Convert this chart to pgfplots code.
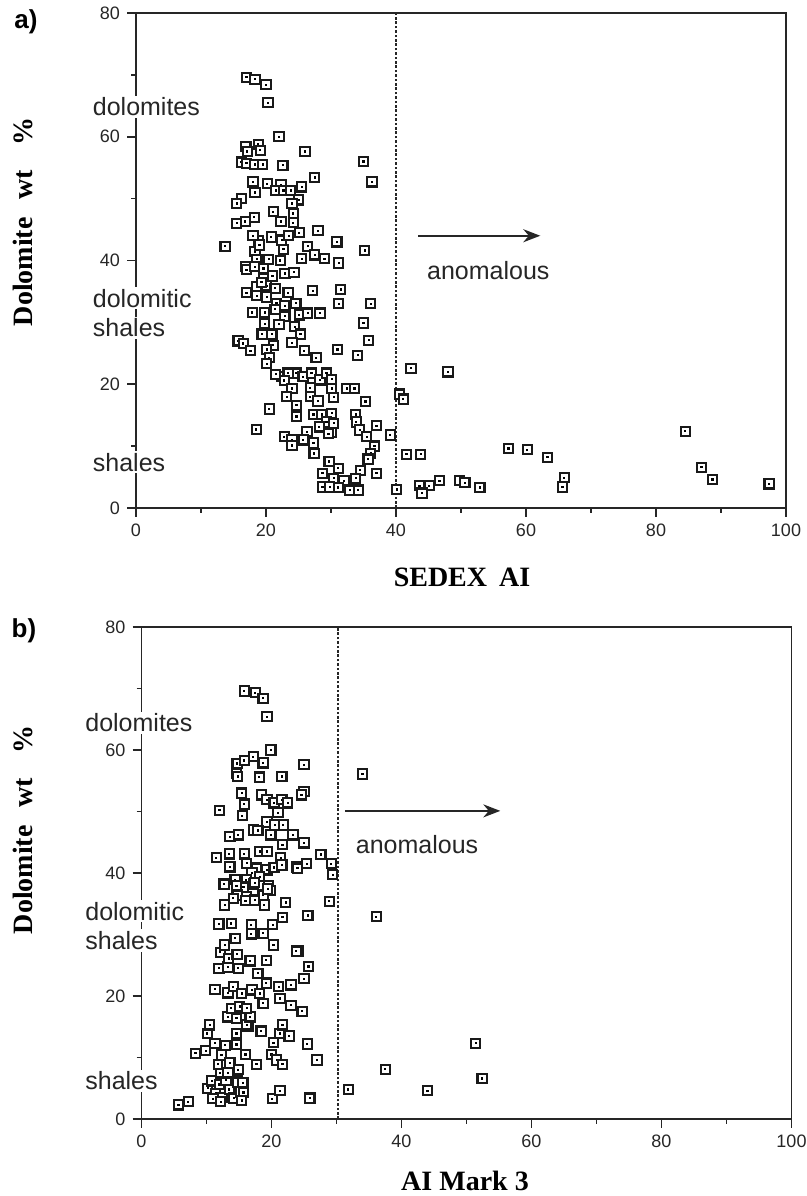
\documentclass[border=0pt]{standalone}
\usepackage{fontspec}
\setmainfont{Liberation Sans}
\newfontfamily\serifbf{Liberation Serif}[BoldFont={Liberation Serif Bold}]
\usepackage{pgfplots}
\usepackage{pgfplotstable}
\pgfplotsset{compat=1.18}
\usetikzlibrary{arrows.meta}

\pgfdeclareplotmark{sqdot}{%
  \pgfpathrectangle{\pgfqpoint{-\pgfplotmarksize}{-\pgfplotmarksize}}{\pgfqpoint{2\pgfplotmarksize}{2\pgfplotmarksize}}%
  \pgfusepathqfillstroke
  \begin{pgfscope}%
  \pgfsetfillcolor{black}%
  \pgfpathrectangle{\pgfqpoint{-0.55pt}{-0.55pt}}{\pgfqpoint{1.1pt}{1.1pt}}%
  \pgfusepathqfill
  \end{pgfscope}%
}

\pgfplotstableread{
x y
17.0 69.6
18.3 69.3
20.0 68.4
20.3 65.5
22.0 60.0
26.0 57.6
16.9 58.4
18.8 58.8
17.1 57.6
19.1 57.8
16.2 55.9
17.0 55.7
18.3 55.5
19.5 55.5
22.6 55.4
35.0 56.0
36.3 52.7
27.5 53.4
18.0 52.7
20.2 52.4
22.3 52.2
21.5 51.3
22.7 51.3
23.8 51.3
25.5 51.9
18.3 51.0
25.0 49.8
16.2 50.0
15.5 49.2
24.0 49.2
21.1 47.9
24.2 47.6
18.2 47.0
15.5 46.0
16.8 46.3
22.3 46.3
24.2 46.1
28.0 44.8
25.1 44.5
30.9 43.0
22.4 43.3
18.8 43.2
13.7 42.3
35.2 41.6
22.7 41.8
26.4 42.3
18.3 41.4
27.5 40.9
18.6 40.2
20.4 40.2
22.2 40.0
25.5 40.3
29.0 40.3
31.2 39.6
16.9 39.0
17.0 38.5
18.3 39.0
19.6 38.7
22.9 37.9
24.3 38.1
19.6 37.1
18.6 35.8
20.1 35.9
21.4 35.5
17.0 34.8
18.6 34.3
20.1 34.1
23.4 34.8
27.2 35.1
31.5 35.3
21.6 33.1
22.9 32.7
24.6 33.1
31.2 33.0
36.1 33.0
17.9 31.6
19.8 31.6
21.4 32.1
22.9 31.0
25.1 31.2
26.4 31.5
28.3 31.5
19.8 29.8
22.0 29.7
35.0 29.9
19.4 28.1
20.9 28.1
24.4 29.3
25.3 28.1
35.8 27.1
15.7 27.0
16.5 26.6
21.1 26.3
24.0 26.7
17.6 25.4
20.1 25.6
25.9 25.4
31.0 25.6
27.7 24.3
34.1 24.7
20.5 24.3
20.1 23.3
22.4 21.2
21.5 21.6
24.6 21.8
25.7 21.2
27.0 21.8
28.3 20.7
29.3 21.8
30.1 20.8
23.4 21.8
22.8 20.6
24.0 19.3
26.8 19.4
30.1 19.3
32.4 19.3
33.6 19.3
23.2 18.0
26.8 18.0
28.0 17.3
30.4 17.9
35.3 17.2
24.7 16.6
20.5 16.0
24.7 14.8
27.3 15.1
28.6 15.1
30.1 15.3
33.8 15.1
29.3 13.9
30.4 13.7
33.9 13.9
28.2 13.1
37.0 13.3
18.5 12.7
26.3 12.3
30.1 12.2
29.6 12.0
34.4 12.6
35.5 11.5
39.1 11.8
22.8 11.5
24.0 11.0
25.7 11.0
27.3 10.5
24.0 10.1
36.7 10.0
27.4 8.8
36.1 8.8
35.7 7.9
29.7 7.5
31.1 6.4
34.5 6.1
37.0 5.6
28.7 5.6
30.4 4.8
32.0 4.4
33.8 4.8
28.7 3.4
29.8 3.4
31.1 3.3
32.9 2.9
34.2 2.9
40.1 3.0
42.3 22.6
48.0 22.0
40.5 18.4
41.1 17.6
41.6 8.7
43.8 8.7
57.3 9.6
60.2 9.4
63.3 8.2
65.9 4.9
65.6 3.4
43.6 3.6
45.1 3.6
44.0 2.4
46.7 4.4
49.8 4.5
50.6 4.1
52.9 3.3
84.5 12.4
87.0 6.6
88.7 4.6
97.4 3.9
19.0 42.5
20.8 43.8
19.3 36.5
21.0 37.5
18.0 44.0
23.5 44.0
}\dataA

\pgfplotstableread{
x y
15.8 69.6
17.5 69.3
18.7 68.4
19.3 65.4
19.9 60.0
14.7 57.8
15.8 58.3
17.2 58.9
18.7 57.9
14.6 56.2
14.8 55.7
18.1 55.6
21.6 55.7
15.4 53.0
18.5 52.7
19.3 51.9
20.4 51.4
21.6 51.9
22.5 51.4
15.8 51.2
12.0 50.2
15.5 49.3
21.0 49.8
19.3 48.3
20.5 47.8
21.8 47.8
17.2 47.0
17.9 46.9
13.6 45.9
14.9 46.2
19.9 46.2
23.3 46.2
21.7 44.6
11.5 42.5
13.5 43.1
15.8 43.1
18.2 43.5
19.3 43.5
21.4 42.5
23.9 41.0
13.6 41.0
16.2 41.6
17.7 40.8
19.3 40.5
20.4 40.9
21.6 41.3
17.0 40.0
18.2 39.4
12.7 38.2
14.4 38.9
16.1 38.9
17.2 38.2
15.7 37.7
19.5 38.0
19.8 37.1
14.7 36.4
16.2 36.1
18.7 36.4
25.0 57.6
25.0 53.3
24.6 52.7
34.0 56.1
25.0 44.9
27.6 43.0
29.2 41.5
29.4 39.7
25.4 41.5
24.0 40.8
28.9 35.4
22.2 35.2
25.6 33.1
36.1 32.9
24.1 27.3
25.7 24.8
25.0 22.8
24.7 17.5
25.5 12.2
27.0 9.6
25.9 3.4
31.8 4.8
37.5 8.1
44.0 4.6
51.4 12.3
52.4 6.6
5.7 2.3
7.2 2.8
8.3 10.7
9.9 11.1
11.3 12.3
12.9 12.0
14.6 12.1
16.0 10.5
17.7 8.9
20.0 10.5
20.8 9.6
21.7 8.9
14.6 13.9
16.4 15.0
18.4 14.3
20.3 12.4
21.3 13.9
22.7 13.5
21.7 15.3
10.1 13.9
10.5 15.3
13.3 16.6
14.6 16.4
16.2 15.3
16.7 16.6
13.8 18.0
15.1 18.3
16.2 18.0
11.3 21.1
13.3 20.5
14.1 21.5
15.4 20.4
17.0 21.0
18.2 20.4
18.7 18.8
21.3 19.6
23.0 18.5
21.1 21.5
23.0 21.8
19.2 22.1
17.9 23.7
11.9 24.5
13.3 24.7
14.9 24.5
16.7 25.7
19.2 25.8
12.1 27.1
13.4 26.1
14.7 26.8
20.3 28.3
23.8 27.3
12.8 28.3
14.4 29.4
16.9 30.1
18.7 30.2
11.9 31.7
13.8 31.8
16.9 31.6
20.2 31.6
21.7 32.8
12.8 34.8
14.1 35.9
16.0 35.5
17.4 35.6
18.9 34.8
22.2 35.2
14.6 37.9
17.4 38.4
19.4 37.4
10.2 5.0
10.8 6.2
11.4 4.2
12.0 5.6
12.5 3.5
13.0 6.3
13.5 4.8
14.2 3.4
14.8 5.9
15.3 4.4
11.0 3.3
12.2 2.8
15.6 5.9
15.7 4.3
15.4 3.0
20.1 3.3
21.3 4.6
12.1 7.5
13.3 7.5
14.8 7.8
11.8 8.9
13.1 9.0
12.3 10.4
13.6 9.1
14.9 8.0
}\dataB

\pgfplotsset{
  myax/.style={
    scale only axis, width=325pt, anchor=south west,
    xmin=0, xmax=100, ymin=0, ymax=80,
    xtick={0,20,...,100}, ytick={0,20,...,80},
    minor xtick={10,30,50,70,90}, minor ytick={10,30,50,70},
    tick align=outside, tick pos=left,
    major tick length=4.5pt, minor tick length=2.5pt,
    axis line style={line width=0.9pt, black!85},
    every tick/.style={black!85, line width=0.8pt},
    ticklabel style={font=\fontsize{9}{10}\selectfont, text=black!85},
    /pgf/number format/assume math mode=true,
    clip=false,
  },
  sq/.style={only marks, mark=sqdot, mark size=2.3pt,
    mark options={draw=black!90, fill=white, line width=1.05pt}},
}
\tikzset{
  dline/.style={line width=0.9pt, black!85, dash pattern=on 1.3pt off 0.9pt},
  arr/.style={line width=1pt, black!85, -{Stealth[length=8.5pt,width=6.5pt]}},
  lab/.style={anchor=west, fill=white, inner sep=1pt, text=black!85,
    font=\fontsize{12.5}{14}\selectfont},
}

\begin{document}
\begin{tikzpicture}
\useasboundingbox (0pt,0pt) rectangle (403.5pt,598pt);
% panel a
\begin{axis}[myax, at={(68pt,344pt)}, height=247.5pt]
\addplot[sq] table {\dataA};
\draw[dline] (axis cs:40,0) -- (axis cs:40,80);
\draw[arr] (axis cs:43.4,44) -- (axis cs:62.2,44);
\node[text=black!85, font=\fontsize{12.5}{14}\selectfont] at (axis cs:54.2,38.4) {anomalous};
\node[lab] at (axis cs:-7.0,64.8) {dolomites};
\node[lab] at (axis cs:-7.0,33.9) {dolomitic};
\node[lab] at (axis cs:-7.0,29.1) {shales};
\node[lab] at (axis cs:-7.0,7.4) {shales};
\end{axis}
% panel b
\begin{axis}[myax, at={(70.75pt,38.5pt)}, height=246pt]
\addplot[sq] table {\dataB};
\draw[dline] (axis cs:30.2,0) -- (axis cs:30.2,80);
\draw[arr] (axis cs:31.3,50.1) -- (axis cs:55.2,50.1);
\node[text=black!85, font=\fontsize{12.5}{14}\selectfont] at (axis cs:42.4,44.6) {anomalous};
\node[lab] at (axis cs:-9.0,64.4) {dolomites};
\node[lab] at (axis cs:-9.0,33.8) {dolomitic};
\node[lab] at (axis cs:-9.0,29.0) {shales};
\node[lab] at (axis cs:-9.0,6.2) {shales};
\end{axis}
% labels
\node[font=\fontsize{13}{15}\selectfont\bfseries] at (13pt,587pt) {a)};
\node[font=\fontsize{13}{15}\selectfont\bfseries] at (12pt,282.5pt) {b)};
\node[rotate=90, font=\serifbf\fontsize{14}{16}\selectfont\bfseries] at (11.5pt,487pt) {Dolomite\hspace{9pt}wt\hspace{12pt}\%};
\node[rotate=90, font=\serifbf\fontsize{14}{16}\selectfont\bfseries] at (11.5pt,183pt) {Dolomite\hspace{9pt}wt\hspace{12pt}\%};
\node[font=\serifbf\fontsize{14}{16}\selectfont\bfseries] at (231pt,309.5pt) {SEDEX\hspace{6pt}AI};
\node[font=\serifbf\fontsize{14}{16}\selectfont\bfseries] at (232.5pt,7.5pt) {AI Mark 3};
\end{tikzpicture}
\end{document}
